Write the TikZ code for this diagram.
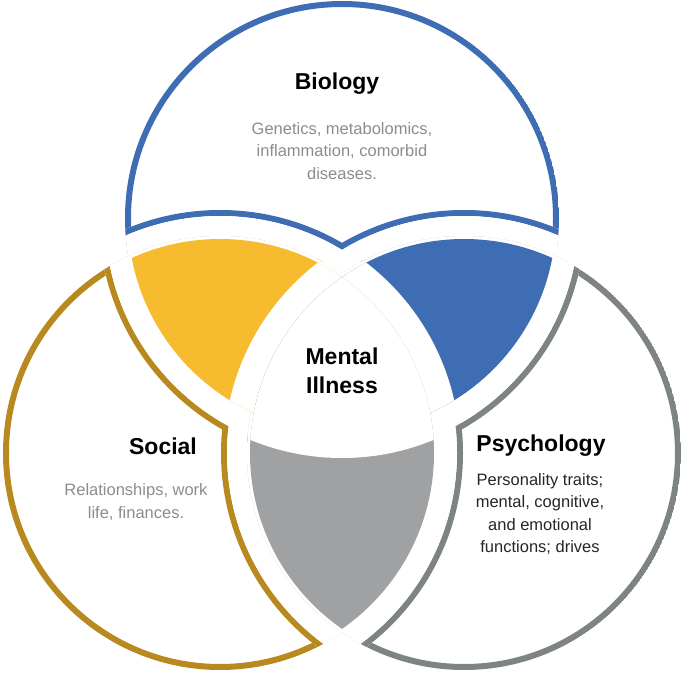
\documentclass[tikz,border=0pt]{standalone}
\usepackage{fontspec}
\setmainfont{Liberation Sans}
\definecolor{bioC}{HTML}{3F6DB4}
\definecolor{socC}{HTML}{B8891E}
\definecolor{psyC}{HTML}{7E8482}
\definecolor{yelF}{HTML}{F6BB2E}
\definecolor{grayF}{HTML}{A0A1A3}
\definecolor{txtG}{HTML}{8C8C8C}
\tikzset{
  outl/.style={line width=6pt},
  title/.style={font=\fontsize{23}{26}\selectfont\bfseries, text=black},
  body/.style={font=\fontsize{16.5}{22.5}\selectfont, align=center},
}
\begin{document}
\begin{tikzpicture}[x=1pt,y=-1pt]
\useasboundingbox (0,0) rectangle (685,676);
\coordinate (B) at (342,218);
\coordinate (S) at (220,453);
\coordinate (P) at (464,453);
\def\R{214pt}
\def\Rp{217pt}
\def\Rg{240pt}
\def\Rgo{243pt}
\def\Rgi{237pt}
% shapes
\foreach \I/\J/\K/\C in {B/S/P/bioC, S/B/P/socC, P/B/S/psyC}{
  \begin{scope}
    \clip (\I) circle (\Rp);
    \draw[outl,\C] (\I) circle (\R);
    \fill[white] (\J) circle (\Rgo) (\K) circle (\Rgo);
    \draw[outl,\C] (\J) circle (\Rg) (\K) circle (\Rg);
    \fill[white] (\J) circle (\Rgi);
    \fill[white] (\K) circle (\Rgi);
  \end{scope}
}
% lenses
\foreach \I/\J/\K/\C in {B/S/P/yelF, B/P/S/bioC, S/P/B/grayF}{
  \begin{scope}
    \clip (\I) circle (\R);
    \clip (\J) circle (\R);
    \fill[\C] (0,0) rectangle (685,676);
    \fill[white] (\K) circle (\Rg);
  \end{scope}
}
\node[title] (bt) at (337,84) {Biology};
\node[body,text=txtG] (bb) at (342,151) {Genetics, metabolomics,\\inflammation, comorbid\\diseases.};
\node[title,align=center,font=\fontsize{23}{29}\selectfont\bfseries] (mi) at (342,371) {Mental\\Illness};
\node[title] (st) at (163,446) {Social};
\node[body,text=txtG] (sb) at (136,502) {Relationships, work\\life, finances.};
\node[title] (pt) at (541,446) {Psychology};
\node[body,text=black!85] (pb) at (540,514) {Personality traits;\\mental, cognitive,\\and emotional\\functions; drives};
\end{tikzpicture}
\end{document}
